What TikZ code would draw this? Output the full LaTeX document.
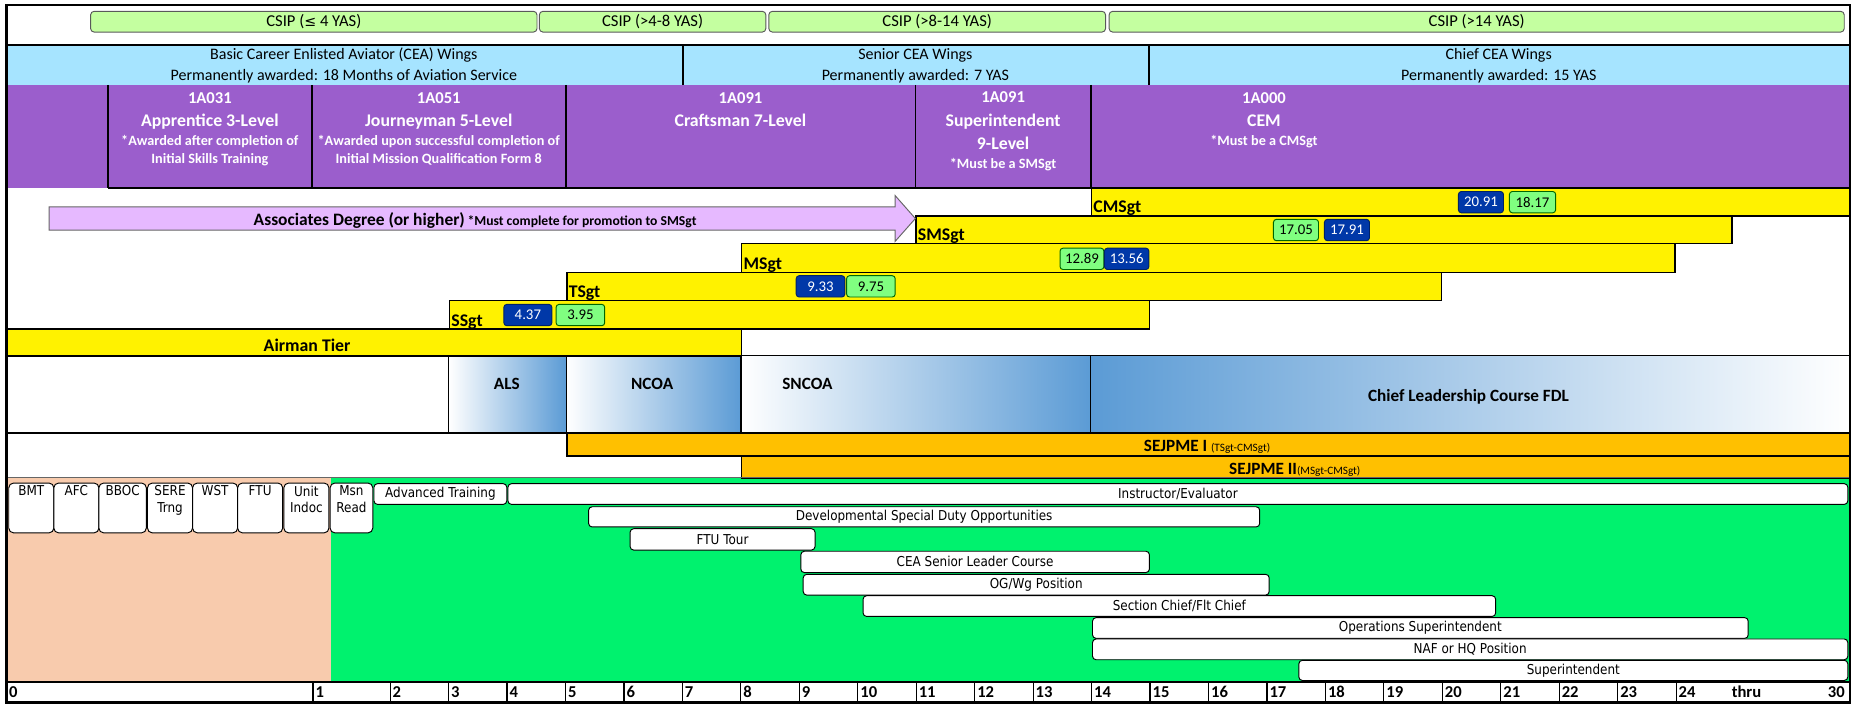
\documentclass[tikz,border=0pt]{standalone}
\usepackage{fontspec}
\setmainfont{Carlito}
\newfontfamily\taskfont[FakeStretch=0.88]{DejaVu Sans}
\newfontfamily\symfont{DejaVu Sans}
\newcommand{\fsz}[2]{\fontsize{#1}{#2}\selectfont}
\definecolor{csipgreen}{RGB}{196,255,160}
\definecolor{wingblue}{RGB}{166,228,255}
\definecolor{afscpurple}{RGB}{155,94,204}
\definecolor{lilac}{RGB}{230,185,255}
\definecolor{badgeblue}{RGB}{0,56,168}
\definecolor{badgegreen}{RGB}{128,255,128}
\definecolor{pmeblue}{RGB}{91,155,213}
\definecolor{sejorange}{RGB}{255,192,0}
\definecolor{peach}{RGB}{248,203,173}
\definecolor{dutygreen}{RGB}{0,242,110}
\tikzstyle{csip}=[draw=black!65, fill=csipgreen, rounded corners=3pt, line width=0.8pt,
                minimum height=17.5pt, inner sep=0, anchor=west, font=\fsz{14}{16}]
\tikzstyle{wing}=[anchor=base, inner sep=0, font=\fsz{13.5}{16}]
\tikzstyle{afsc}=[anchor=base, inner sep=0, text=white, font=\fsz{14}{16}\bfseries]
\tikzstyle{afsctitle}=[afsc, font=\fsz{15}{17}\bfseries]
\tikzstyle{afscnote}=[afsc, font=\fsz{12}{14}\bfseries]
\tikzstyle{bar}=[draw=black, fill=yellow, line width=1.2pt, anchor=north west, inner sep=0]
\tikzstyle{rank}=[anchor=south west, inner xsep=2pt, inner ysep=0.5pt, font=\fsz{15}{17}\bfseries]
\tikzstyle{badge}=[rounded corners=2.5pt, line width=0.8pt, minimum height=18pt, inner sep=0,
                font=\fsz{12.5}{14}]
\tikzstyle{badgeb}=[badge, fill=badgeblue, draw=badgeblue!60!black, text=white]
\tikzstyle{badgeg}=[badge, fill=badgegreen, draw=green!40!black]
\tikzstyle{pme}=[anchor=base, inner sep=0, font=\fsz{14.5}{16}\bfseries]
\tikzstyle{sej}=[draw=black, fill=sejorange, line width=1.2pt, anchor=north west, inner sep=0]
\tikzstyle{trg}=[draw=black, fill=white, rounded corners=4pt, line width=0.8pt,
                anchor=north west, minimum height=42pt, inner sep=0]
\tikzstyle{trglbl}=[anchor=north, align=center, inner sep=2.5pt, font=\taskfont\fsz{11.5}{14}]
\tikzstyle{duty}=[draw=black, fill=white, rounded corners=3pt, line width=0.8pt,
                anchor=north west, inner sep=0, font=\taskfont\fsz{11.5}{14}]
\tikzstyle{yr}=[anchor=south west, minimum height=17.5pt, inner xsep=2pt, inner ysep=0,
                font=\fsz{14}{16}\bfseries]
\begin{document}
\begin{tikzpicture}[x=1pt, y=-1pt]
\useasboundingbox (0,0) rectangle (1567,594);
% bands
\fill[wingblue] (5.5,38) rectangle (1560,71.5);
\fill[afscpurple] (5.5,71.5) rectangle (1560,158.5);
\fill[peach] (5.5,402.5) rectangle (279,575);
\fill[dutygreen] (279,402.5) rectangle (1560,575);
\shade[left color=white, right color=pmeblue] (378.5,300) rectangle (477.5,365);
\shade[left color=white, right color=pmeblue] (477.5,300) rectangle (625,365);
\shade[left color=white, right color=pmeblue] (625,300) rectangle (920,365);
\shade[left color=pmeblue, right color=white] (920,300) rectangle (1560,365);

% CSIP
\node[csip, minimum width=376.5pt] (csip1) at (76,18.3) {CSIP ({\symfont\fsz{12}{14}≤} 4 YAS)};
\node[csip, minimum width=191pt] (csip2) at (454.5,18.3) {CSIP (>4-8 YAS)};
\node[csip, minimum width=284pt] (csip3) at (648,18.3) {CSIP (>8-14 YAS)};
\node[csip, minimum width=620pt] (csip4) at (935,18.3) {CSIP (>14 YAS)};

% wings
\node[wing] (basic) at (290,50.3) {Basic Career Enlisted Aviator (CEA) Wings};
\node[wing] (basicp) at (290,68.3) {Permanently awarded: 18 Months of Aviation Service};
\node[wing] (senior) at (772,50.3) {Senior CEA Wings};
\node[wing] (seniorp) at (772,68.3) {Permanently awarded: 7 YAS};
\node[wing] (chief) at (1264,50.3) {Chief CEA Wings};
\node[wing] (chiefp) at (1264,68.3) {Permanently awarded: 15 YAS};

% AFSC levels
\node[afsc] (c1code) at (177,87.5) {1A031};
\node[afsctitle] (c1title) at (177,106.8) {Apprentice 3-Level};
\node[afscnote] (c1note) at (177,122.5) {*Awarded after completion of};
\node[afscnote] (c1note2) at (177,138) {Initial Skills Training};
\node[afsc] (c2code) at (370,87.5) {1A051};
\node[afsctitle] (c2title) at (370,106.8) {Journeyman 5-Level};
\node[afscnote] (c2note) at (370,122.5) {*Awarded upon successful completion of};
\node[afscnote] (c2note2) at (370,138) {Initial Mission Qualification Form 8};
\node[afsc] (c3code) at (624.5,87) {1A091};
\node[afsctitle] (c3title) at (624.5,106.5) {Craftsman 7-Level};
\node[afsc] (c4code) at (846,86.8) {1A091};
\node[afsctitle] (c4title) at (846,106.8) {Superintendent};
\node[afsctitle] (c4level) at (846,125.8) {9-Level};
\node[afscnote] (c4note) at (846,142) {*Must be a SMSgt};
\node[afsc] (c5code) at (1066,87.4) {1A000};
\node[afsctitle] (c5title) at (1066,106.5) {CEM};
\node[afscnote] (c5note) at (1066,122.5) {*Must be a CMSgt};

% ranks
\node[bar, minimum width=640pt, minimum height=23pt] (cmsgt) at (920,158.5) {};
\node[bar, minimum width=688pt, minimum height=23.5pt] (smsgt) at (772,181.5) {};
\node[bar, minimum width=787pt, minimum height=24pt] (msgt) at (625,205) {};
\node[bar, minimum width=737.5pt, minimum height=24pt] (tsgt) at (477.5,229) {};
\node[bar, minimum width=590.5pt, minimum height=24pt] (ssgt) at (378.5,253) {};
\node[bar, minimum width=619.5pt, minimum height=23pt] (airman) at (5.5,277) {};
\node[rank] (cmsgtl) at (cmsgt.south west) {CMSgt};
\node[rank] (smsgtl) at (smsgt.south west) {SMSgt};
\node[rank] (msgtl) at (msgt.south west) {MSgt};
\node[rank] (tsgtl) at (tsgt.south west) {TSgt};
\node[rank] (ssgtl) at (ssgt.south west) {SSgt};
\node[rank, anchor=base] (airmanl) at (259,296.5) {Airman Tier};

\node[badgeb, minimum width=38pt] (p2091) at (1249,170.5) {20.91};
\node[badgeg, minimum width=39pt] (p1817) at (1292.5,170.5) {18.17};
\node[badgeg, minimum width=38pt] (p1705) at (1093,194) {17.05};
\node[badgeb, minimum width=38pt] (p1791) at (1136,194) {17.91};
\node[badgeg, minimum width=37pt] (p1289) at (912.5,218.3) {12.89};
\node[badgeb, minimum width=37.5pt] (p1356) at (950.2,218.3) {13.56};
\node[badgeb, minimum width=41pt] (p933) at (692,241.5) {9.33};
\node[badgeg, minimum width=41pt] (p975) at (734.5,241.5) {9.75};
\node[badgeb, minimum width=40.5pt] (p437) at (445.2,265.7) {4.37};
\node[badgeg, minimum width=41pt] (p395) at (489.5,265.7) {3.95};

% degree arrow
\draw[fill=lilac, draw=black!60, line width=0.8pt] (41.5,174.5) -- (755,174.5) -- (755,165)
  -- (772,184.3) -- (755,203.5) -- (755,194) -- (41.5,194) -- cycle;
\node[anchor=base, inner sep=0, font=\bfseries] (assoc) at (400.7,190)
  {{\fsz{14.7}{16}Associates Degree (or higher)} {\fsz{11.5}{14}*Must complete for promotion to SMSgt}};

% PME
\node[pme] (als) at (427.5,328.4) {ALS};
\node[pme] (ncoa) at (550,328.4) {NCOA};
\node[pme] (sncoa) at (681,328.4) {SNCOA};
\node[pme] (clc) at (1238.5,338.5) {Chief Leadership Course FDL};
\node[sej, minimum width=1082.5pt, minimum height=19pt] (sej1) at (477.5,365) {};
\node[sej, minimum width=935pt, minimum height=18.5pt] (sej2) at (625,384) {};
\node[pme] (sej1l) at (1018,380.5) {SEJPME I {\fsz{9.5}{10}\mdseries(TSgt-CMSgt)}};
\node[pme] (sej2l) at (1092,400) {SEJPME II{\fsz{9.5}{10}\mdseries(MSgt-CMSgt)}};

% grid lines
\draw[line width=1.5pt] (5.5,38) -- (1560,38);
\draw[line width=1.2pt] (576,38) -- (576,71.5) (969,38) -- (969,71.5);
\draw[line width=1.2pt] (91,71.5) -- (91,158.5) (263,71.5) -- (263,158.5)
  (477.5,71.5) -- (477.5,158.5) (772,71.5) -- (772,158.5) (920,71.5) -- (920,158.5);
\draw[line width=1.5pt] (91,158.5) -- (1560,158.5);
\draw[line width=1.2pt] (5.5,300) -- (1560,300);
\draw[line width=1pt] (378.5,300) -- (378.5,365) (477.5,300) -- (477.5,365)
  (625,300) -- (625,365) (920,300) -- (920,365);
\draw[line width=1.5pt] (5.5,365) -- (1560,365);
\draw[line width=0.8pt, black!60] (5.5,402.5) -- (1560,402.5);

% training
\node[trg, minimum width=38pt, label={[trglbl]north:BMT}] (bmt) at (7,407) {};
\node[trg, minimum width=38pt, label={[trglbl]north:AFC}] (afc) at (45,407) {};
\node[trg, minimum width=40pt, label={[trglbl]north:BBOC}] (bboc) at (83,407) {};
\node[trg, minimum width=38pt, label={[trglbl]north:SERE\\Trng}] (sere) at (124,407) {};
\node[trg, minimum width=38pt, label={[trglbl]north:WST}] (wst) at (162,407) {};
\node[trg, minimum width=38pt, label={[trglbl]north:FTU}] (ftu) at (200,407) {};
\node[trg, minimum width=38pt, label={[trglbl]north:Unit\\Indoc}] (indoc) at (239,407) {};
\node[trg, minimum width=36pt, label={[trglbl]north:Msn\\Read}] (msn) at (278,407) {};

\node[duty, minimum width=112pt, minimum height=17.5pt] (advtrg) at (315,407.5) {Advanced Training};
\node[duty, minimum width=1130pt, minimum height=17.5pt] (instr) at (428,407.5) {Instructor/Evaluator};
\node[duty, minimum width=566pt, minimum height=17pt] (dsd) at (496,427) {Developmental Special Duty Opportunities};
\node[duty, minimum width=156pt, minimum height=18pt] (ftutour) at (531,445.5) {FTU Tour};
\node[duty, minimum width=294pt, minimum height=18pt] (ceaslc) at (675,464.5) {CEA Senior Leader Course};
\node[duty, minimum width=393pt, minimum height=17.5pt] (ogwg) at (677,484) {OG/Wg Position};
\node[duty, minimum width=533.5pt, minimum height=17.5pt] (secchief) at (727.5,502) {Section Chief/Flt Chief};
\node[duty, minimum width=553pt, minimum height=17.5pt] (opssupt) at (921,520.5) {Operations Superintendent};
\node[duty, minimum width=637pt, minimum height=17.5pt] (nafhq) at (921,538.5) {NAF or HQ Position};
\node[duty, minimum width=463pt, minimum height=17pt] (supt) at (1095,556.5) {Superintendent};

% years
\draw[line width=2pt] (5.5,575) -- (1560,575);
\node[yr] (yr0) at (5.5,592.5) {0};
\node[yr] (yr1) at (264,592.5) {1};
\draw[line width=1pt] (yr1.south west) -- (yr1.north west);
\foreach \k in {2,...,24}{
  \node[yr] (yr\k) at (230.4+49.3*\k,592.5) {\k};
  \draw[line width=1pt] (yr\k.south west) -- (yr\k.north west);
}
\node[yr, anchor=south] (thru) at (1473,592.5) {thru};
\node[yr, anchor=south east] (yr30) at (1558,592.5) {30};

\draw[line width=2pt] (5.5,4) rectangle (1560,592.5);
\end{tikzpicture}
\end{document}
